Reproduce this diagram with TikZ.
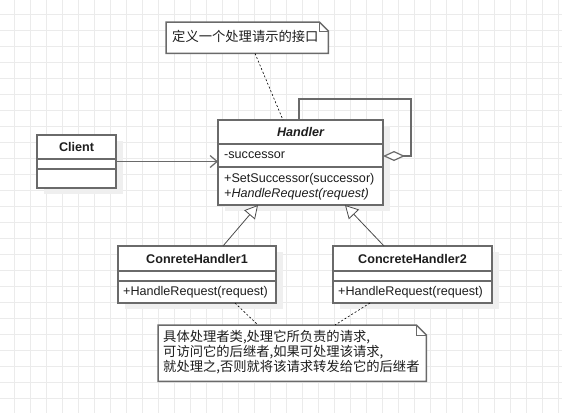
\documentclass[tikz,border=0pt]{standalone}
\usepackage{fontspec}
\setmainfont{Liberation Sans}
\newfontfamily\cjk{Noto Sans CJK SC}
\usetikzlibrary{arrows.meta,shadows,calc}
\definecolor{gridc}{HTML}{EBEBEB}
\definecolor{boxc}{HTML}{6A6A6A}
\definecolor{shadc}{HTML}{EFEFEF}
\definecolor{txtc}{HTML}{1E1E1E}
\newcommand\umlsize{\fontsize{12.6}{15}\selectfont}
\begin{document}
\begin{tikzpicture}[x=1pt,y=-1pt,
  font=\umlsize, text=txtc,
  gridline/.style={draw=gridc, line width=1pt},
  umlbox/.style={draw=boxc, line width=1.5pt, fill=white, inner sep=0pt, outer sep=0pt, anchor=north west,
    drop shadow={shadow xshift=7pt, shadow yshift=-6pt, fill=shadc, opacity=1}},
  sep/.style={draw=boxc, line width=1.5pt},
  ttl/.style={inner sep=0pt, font=\umlsize\bfseries},
  mem/.style={inner sep=0pt, anchor=west},
  notebox/.style={inner ysep=0pt, inner xsep=6pt, anchor=north west, align=left, font=\cjk\fontsize{13.3}{13.4}\selectfont},
  noteline/.style={draw=boxc, line width=1.5pt, fill=white},
  conn/.style={draw=boxc, line width=1.5pt},
  inh/.style={draw=txtc!80, line width=0.8pt, -{Triangle[open, length=13pt, width=14pt, fill=white]}},
  dashline/.style={draw=black, line width=0.6pt, dash pattern=on 2pt off 2pt}
]
\fill[white] (0,0) rectangle (562,413);
\useasboundingbox (0,0) rectangle (562,413);
\foreach \x in {14,30,...,558} \draw[gridline] (\x,0) -- (\x,413);
\foreach \y in {14,30,...,406} \draw[gridline] (0,\y) -- (562,\y);

% Handler
\node[umlbox, minimum width=165pt, minimum height=85pt] (handler) at (218,120) {};
\draw[sep] ($(handler.north west)+(0,24)$) -- ($(handler.north east)+(0,24)$);
\draw[sep] ($(handler.north west)+(0,47)$) -- ($(handler.north east)+(0,47)$);
\node[ttl, font=\umlsize\bfseries\itshape] (htitle) at ($(handler.north)+(0,12)$) {Handler};
\node[mem] (hattr) at ($(handler.north west)+(6,35.5)$) {-successor};
\node[mem] (hm1) at ($(handler.north west)+(6,59)$) {+SetSuccessor(successor)};
\node[mem, font=\umlsize\itshape] (hm2) at ($(handler.north west)+(6,74)$) {+HandleRequest(request)};

% Client
\node[umlbox, minimum width=79pt, minimum height=53pt] (client) at (37,135) {};
\draw[sep] ($(client.north west)+(0,24)$) -- ($(client.north east)+(0,24)$);
\draw[sep] ($(client.north west)+(0,34)$) -- ($(client.north east)+(0,34)$);
\node[ttl] (ctitle) at ($(client.north)+(0,12)$) {Client};

% ConreteHandler1
\node[umlbox, minimum width=158pt, minimum height=57pt] (ch1) at (118,246) {};
\draw[sep] ($(ch1.north west)+(0,25)$) -- ($(ch1.north east)+(0,25)$);
\draw[sep] ($(ch1.north west)+(0,35)$) -- ($(ch1.north east)+(0,35)$);
\node[ttl] (c1title) at ($(ch1.north)+(0,12.5)$) {ConreteHandler1};
\node[mem] (c1m) at ($(ch1.north west)+(5,46)$) {+HandleRequest(request)};

% ConcreteHandler2
\node[umlbox, minimum width=159pt, minimum height=57pt] (ch2) at (333,246) {};
\draw[sep] ($(ch2.north west)+(0,25)$) -- ($(ch2.north east)+(0,25)$);
\draw[sep] ($(ch2.north west)+(0,35)$) -- ($(ch2.north east)+(0,35)$);
\node[ttl] (c2title) at ($(ch2.north)+(0,12.5)$) {ConcreteHandler2};
\node[mem] (c2m) at ($(ch2.north west)+(5,46)$) {+HandleRequest(request)};

% top note
\node[notebox, minimum height=31pt, text width=150pt] (note1) at (166,22) {};
\draw[noteline] (note1.north west) -- ($(note1.north east)+(-9,0)$) -- ($(note1.north east)+(0,9)$) -- (note1.south east) -- (note1.south west) -- cycle;
\draw[noteline, fill=none, line width=1pt] ($(note1.north east)+(-9,0)$) -- ($(note1.north east)+(-9,9)$) -- ($(note1.north east)+(0,9)$);
\node[notebox, anchor=west] (note1t) at ($(note1.west)+(0,-1)$) {定义一个处理请示的接口};

% bottom note
\node[notebox, inner xsep=5pt, minimum height=56pt, text width=258pt] (note2) at (158,325) {};
\draw[noteline] (note2.north west) -- ($(note2.north east)+(-10,0)$) -- ($(note2.north east)+(0,10)$) -- (note2.south east) -- (note2.south west) -- cycle;
\draw[noteline, fill=none, line width=1pt] ($(note2.north east)+(-10,0)$) -- ($(note2.north east)+(-10,10)$) -- ($(note2.north east)+(0,10)$);
\node[notebox, inner xsep=5pt, anchor=west] (note2t) at ($(note2.west)+(0,-1)$) {具体处理者类,处理它所负责的请求,\\可访问它的后继者,如果可处理该请求,\\就处理之,否则就将该请求转发给它的后继者};

% connectors
\draw[conn, -{Straight Barb[length=7pt, width=12pt, line width=1.2pt]}] (client.east) -- (client.east -| handler.west);
\coordinate (loopA) at (299,99);
\coordinate (loopB) at (411,156);
\draw[conn, {Diamond[open, length=22pt, width=10pt, fill=white, line width=1.2pt]}-] (loopB -| handler.east) -- (loopB) |- (loopA) -- (loopA |- handler.north);
\draw[inh] ($(ch1.north west)+(105,0)$) -- ($(handler.south west)+(40,0)$);
\draw[inh] ($(ch2.north west)+(51,0)$) -- ($(handler.south west)+(127,0)$);
\draw[dashline] ($(note1.south west)+(89,0)$) -- ($(handler.north west)+(65,0)$);
\draw[dashline] ($(ch1.south west)+(117,0)$) -- ($(note2.north west)+(100,0)$);
\draw[dashline] ($(ch2.south west)+(37,0)$) -- ($(note2.north west)+(177,0)$);
\end{tikzpicture}
\end{document}
